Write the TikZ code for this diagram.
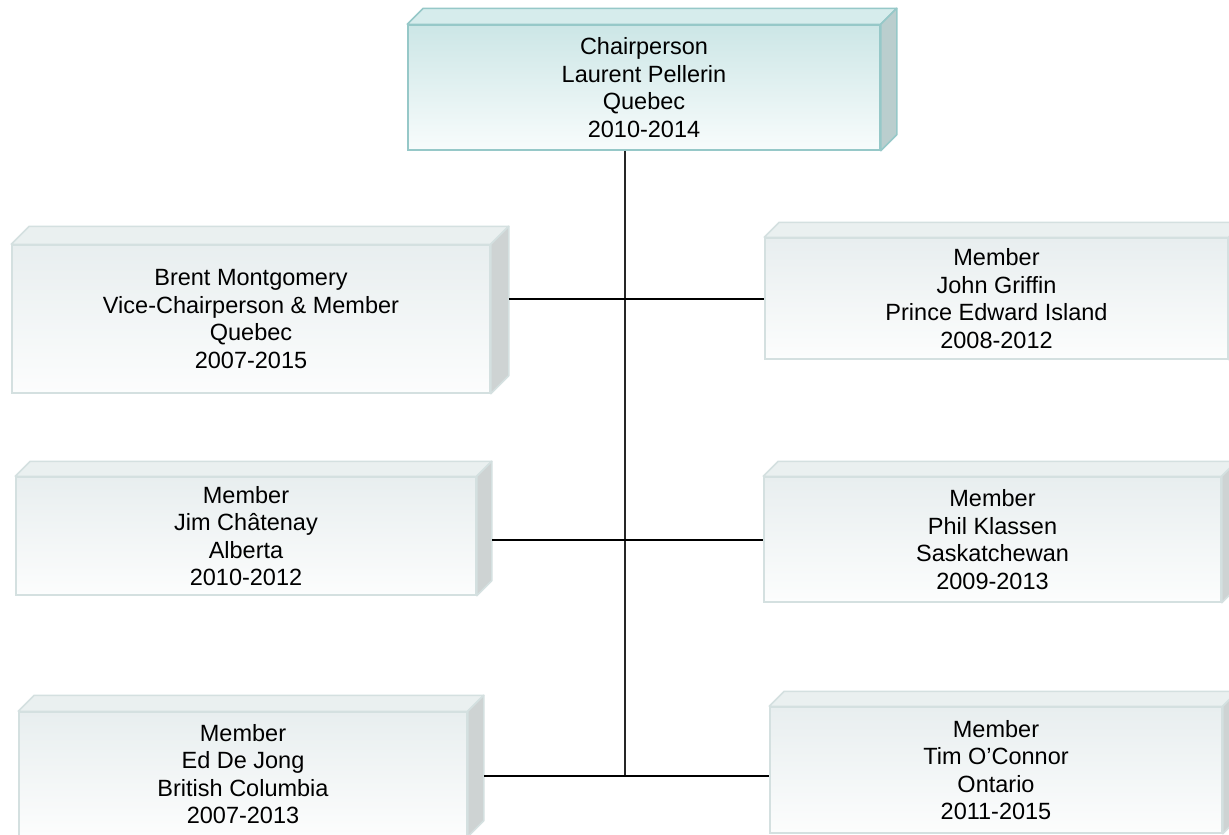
\documentclass[tikz,border=0pt]{standalone}
\usepackage{fontspec}
\setmainfont{Liberation Sans}
\usetikzlibrary{calc}
\definecolor{tealtop}{RGB}{204,230,230}
\definecolor{tealbot}{RGB}{248,252,252}
\definecolor{tealedge}{RGB}{150,200,200}
\definecolor{tealface}{RGB}{214,236,236}
\definecolor{tealside}{RGB}{186,206,206}
\definecolor{greytop}{RGB}{232,238,239}
\definecolor{greybot}{RGB}{252,253,253}
\definecolor{greyedge}{RGB}{212,224,224}
\definecolor{greyface}{RGB}{234,240,240}
\definecolor{greyside}{RGB}{206,211,211}
\tikzset{
  tfront/.style={draw=tealedge, line width=1.5pt, top color=tealtop, bottom color=tealbot,
    align=center, inner sep=2pt, font=\fontsize{23.5}{27.5}\selectfont},
  ttop/.style={fill=tealface, draw=tealedge, line width=1.5pt, line join=round},
  tside/.style={fill=tealside, draw=tealedge, line width=1.5pt, line join=round},
  gfront/.style={draw=greyedge, line width=1.5pt, top color=greytop, bottom color=greybot,
    align=center, inner sep=2pt, font=\fontsize{23.5}{27.5}\selectfont},
  gtop/.style={fill=greyface, draw=greyedge, line width=1.5pt, line join=round},
  gside/.style={fill=greyside, draw=greyedge, line width=1.5pt, line join=round},
  conn/.style={line width=2pt, black},
  trunkline/.style={line width=1.6pt, black!85}
}
% #1 style prefix, #2 name, #3 cx, #4 cy, #5 w, #6 h, #7 depth, #8 text
\newcommand\orgcube[8]{%
  \node[#1front, minimum width=#5pt, minimum height=#6pt] (#2) at (#3,#4) {#8};
  \filldraw[#1top] (#2.north west) -- ++(#7,-#7) -- ([shift={(#7,-#7)}]#2.north east) -- (#2.north east) -- cycle;
  \filldraw[#1side] (#2.north east) -- ++(#7,-#7) -- ([shift={(#7,-#7)}]#2.south east) -- (#2.south east) -- cycle;
  \coordinate (#2-side) at ([xshift=#7pt]#2.east);
}
\begin{document}
\begin{tikzpicture}[x=1pt,y=-1pt]
\useasboundingbox (0,0) rectangle (1229,835);
\fill[white] (0,0) rectangle (1229,835);
\clip (0,0) rectangle (1229,835);

\orgcube{t}{chair}{644}{87.5}{472}{125}{16}{Chairperson\\Laurent Pellerin\\Quebec\\2010-2014}
\orgcube{g}{brent}{251}{319}{478}{148}{18}{Brent Montgomery\\Vice-Chairperson \& Member\\Quebec\\2007-2015}
\orgcube{g}{john}{996.5}{298.5}{463}{121}{15}{Member\\John Griffin\\Prince Edward Island\\2008-2012}
\orgcube{g}{jim}{246}{536}{460}{118}{15}{Member\\Jim Châtenay\\Alberta\\2010-2012}
\orgcube{g}{phil}{992.5}{539.5}{457}{125}{15}{Member\\Phil Klassen\\Saskatchewan\\2009-2013}
\orgcube{g}{ed}{243}{774}{448}{124}{16}{Member\\Ed De Jong\\British Columbia\\2007-2013}
\orgcube{g}{tim}{996}{770}{452}{126}{15}{Member\\Tim O’Connor\\Ontario\\2011-2015}

\coordinate (trunk) at (625,776);
\draw[trunkline] (chair.south -| trunk) -- (trunk);
\draw[conn] (brent-side |- john.west) -- (john.west);
\draw[conn] (jim-side |- phil.west) -- (phil.west);
\draw[conn] (trunk -| ed-side) -- (trunk -| tim.west);
\end{tikzpicture}
\end{document}
